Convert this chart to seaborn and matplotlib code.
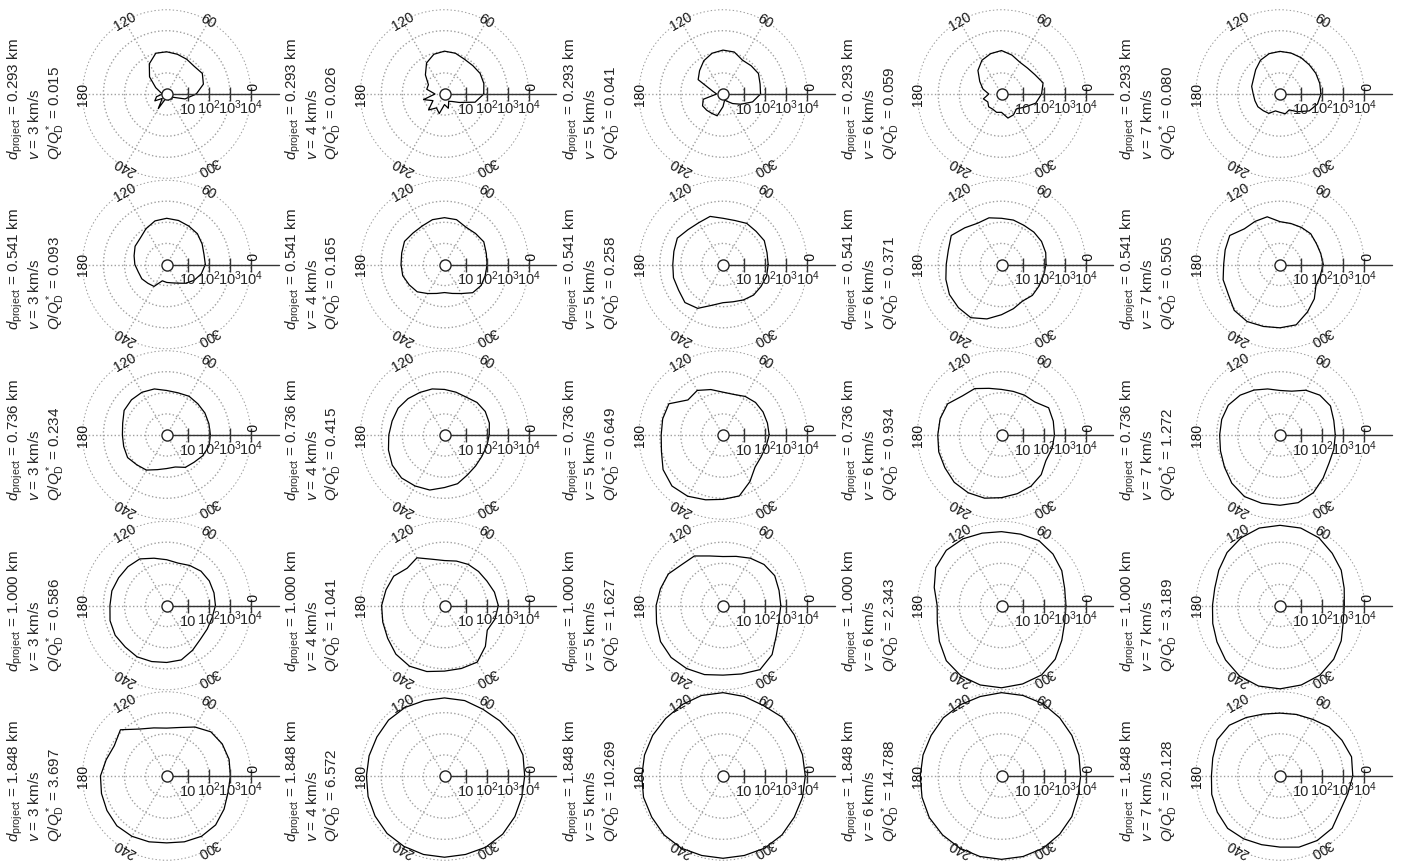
import numpy as np
import matplotlib
matplotlib.use('Agg')
import matplotlib.pyplot as plt
import matplotlib.transforms as mtransforms
import seaborn as sns


# parametres des simulations (lignes = diametre du projectile, colonnes = vitesse)
d_project = [0.293, 0.541, 0.736, 1.000, 1.848]
v_impact = [3, 4, 5, 6, 7]
q_row1 = [0.015, 0.026, 0.041, 0.059, 0.080]
q_row2 = [0.093, 0.165, 0.258, 0.371, 0.505]
q_row3 = [0.234, 0.415, 0.649, 0.934, 1.272]
q_row4 = [0.586, 1.041, 1.627, 2.343, 3.189]
q_row5 = [3.697, 6.572, 10.269, 14.788, 20.128]

# angles (deg) des points de chaque profil
angle_deg = [0, 15, 30, 45, 60, 75, 90, 105, 120, 135, 150, 165,
             180, 195, 210, 225, 240, 255, 270, 285, 300, 315, 330, 345]

# log10 du nombre de fragments par direction
n_d0293_v3 = [1.40, 1.80, 1.95, 1.85, 1.90, 1.95, 2.00, 2.00, 1.65, 1.15, 0.60, 0.30,
              0.20, 0.50, 0.65, 0.30, 0.80, 0.25, 0.20, 0.30, 0.20, 0.35, 0.30, 0.90]
n_d0293_v4 = [1.86, 1.93, 1.95, 1.90, 1.90, 2.00, 2.03, 1.95, 1.70, 1.28, 0.88, 0.87,
              0.45, 1.03, 0.63, 1.07, 0.76, 0.96, 0.50, 0.70, 0.40, 0.50, 0.80, 1.50]
n_d0293_v5 = [1.78, 1.82, 1.94, 1.89, 1.85, 2.06, 2.08, 2.00, 1.82, 1.57, 1.36, 0.50,
              0.30, 0.97, 1.12, 1.09, 1.06, 1.07, 0.60, 0.30, 0.40, 0.64, 0.97, 1.45]
n_d0293_v6 = [1.90, 2.04, 1.83, 1.74, 1.74, 1.91, 2.06, 1.98, 1.85, 1.58, 1.19, 0.91,
              0.60, 0.89, 0.75, 0.86, 0.83, 0.90, 0.87, 1.18, 1.14, 1.00, 1.25, 1.68]
n_d0293_v7 = [1.94, 1.95, 1.96, 1.96, 1.99, 2.01, 2.02, 1.98, 1.85, 1.63, 1.45, 1.39,
              1.27, 1.23, 1.21, 1.12, 1.06, 0.83, 0.87, 0.97, 0.87, 1.19, 1.60, 1.84]

n_d0541_v3 = [1.83, 1.83, 1.94, 2.06, 2.10, 2.16, 2.19, 2.14, 1.96, 1.77, 1.73, 1.60,
              1.51, 1.39, 1.36, 1.26, 1.20, 0.80, 0.85, 0.90, 1.02, 1.26, 1.50, 1.70]
n_d0541_v4 = [2.02, 2.05, 2.15, 2.08, 2.04, 2.20, 2.22, 2.20, 2.11, 2.11, 2.19, 2.10,
              2.06, 2.05, 1.93, 1.83, 1.59, 1.42, 1.33, 1.42, 1.59, 1.89, 2.00, 2.00]
n_d0541_v5 = [2.14, 2.16, 2.26, 2.22, 2.25, 2.16, 2.19, 2.36, 2.29, 2.34, 2.50, 2.41,
              2.38, 2.43, 2.43, 2.55, 2.40, 2.00, 1.81, 1.83, 1.94, 2.05, 2.08, 2.14]
n_d0541_v6 = [2.11, 2.17, 2.19, 2.17, 2.14, 2.18, 2.19, 2.29, 2.26, 2.46, 2.75, 2.61,
              2.62, 2.73, 2.85, 2.89, 2.91, 2.67, 2.38, 2.17, 2.00, 2.07, 2.05, 2.06]
n_d0541_v7 = [2.05, 2.00, 1.99, 2.06, 2.03, 2.01, 2.03, 2.34, 2.36, 2.39, 2.75, 2.69,
              2.67, 2.79, 2.83, 3.07, 3.12, 3.04, 3.00, 2.96, 2.60, 2.30, 1.97, 1.98]

n_d0736_v3 = [2.07, 2.07, 2.09, 2.09, 2.12, 2.07, 2.11, 2.26, 2.34, 2.36, 2.33, 2.16,
              2.10, 2.11, 2.14, 2.00, 1.92, 1.70, 1.59, 1.57, 1.77, 1.83, 1.97, 2.07]
n_d0736_v4 = [2.12, 2.20, 2.23, 2.18, 2.07, 2.10, 2.16, 2.26, 2.33, 2.44, 2.54, 2.57,
              2.64, 2.75, 2.86, 2.88, 2.79, 2.70, 2.49, 2.39, 2.18, 2.08, 2.04, 2.07]
n_d0736_v5 = [2.19, 2.18, 2.19, 2.18, 2.11, 1.99, 2.03, 2.23, 2.44, 2.35, 2.96, 2.96,
              2.93, 3.02, 3.28, 3.42, 3.35, 3.18, 3.05, 2.99, 2.55, 2.15, 2.08, 2.11]
n_d0736_v6 = [2.51, 2.54, 2.58, 2.22, 2.18, 2.14, 2.16, 2.29, 2.54, 2.62, 2.95, 3.01,
              3.02, 3.08, 3.10, 3.17, 3.16, 3.10, 2.97, 2.88, 2.80, 2.66, 2.43, 2.48]
n_d0736_v7 = [2.62, 2.64, 2.76, 2.67, 2.45, 2.15, 2.11, 2.26, 2.46, 2.67, 2.83, 2.86,
              2.86, 2.92, 3.04, 3.23, 3.37, 3.35, 3.33, 3.32, 3.16, 2.89, 2.68, 2.64]

n_d1000_v3 = [2.31, 2.32, 2.33, 2.30, 2.19, 2.08, 2.17, 2.32, 2.55, 2.60, 2.63, 2.69,
              2.69, 2.78, 2.82, 2.78, 2.81, 2.75, 2.70, 2.67, 2.45, 2.26, 2.22, 2.23]
n_d1000_v4 = [2.55, 2.45, 2.32, 2.28, 2.25, 2.18, 2.13, 2.27, 2.61, 2.50, 2.78, 2.87,
              2.98, 3.03, 3.11, 3.26, 3.32, 3.24, 3.11, 3.09, 3.10, 2.74, 2.34, 2.48]
n_d1000_v5 = [2.74, 2.75, 2.83, 2.75, 2.59, 2.41, 2.32, 2.43, 2.71, 2.75, 2.99, 3.07,
              3.17, 3.26, 3.42, 3.48, 3.45, 3.39, 3.30, 3.36, 3.51, 3.29, 2.91, 2.74]
n_d1000_v6 = [3.05, 3.10, 3.30, 3.45, 3.55, 3.50, 3.50, 3.55, 3.65, 3.70, 3.60, 3.30,
              3.05, 3.15, 3.40, 3.70, 3.85, 3.90, 3.90, 3.85, 3.80, 3.60, 3.30, 3.10]
n_d1000_v7 = [3.05, 3.15, 3.35, 3.50, 3.70, 3.80, 3.80, 3.80, 3.70, 3.55, 3.35, 3.20,
              3.20, 3.30, 3.45, 3.65, 3.85, 3.95, 3.95, 3.90, 3.80, 3.60, 3.35, 3.10]

n_d1848_v3 = [3.02, 3.06, 3.04, 2.96, 2.68, 2.38, 2.27, 2.36, 2.57, 3.10, 2.87, 2.97,
              3.14, 3.20, 3.27, 3.34, 3.30, 3.23, 3.17, 3.23, 3.30, 3.28, 3.14, 3.01]
n_d1848_v4 = [3.80, 3.85, 3.80, 3.70, 3.65, 3.70, 3.70, 3.70, 3.75, 3.75, 3.70, 3.70,
              3.70, 3.75, 3.80, 3.85, 3.85, 3.85, 3.85, 3.85, 3.90, 3.90, 3.85, 3.80]
n_d1848_v5 = [3.90, 3.90, 3.90, 3.95, 3.85, 3.90, 3.95, 3.95, 3.90, 3.85, 3.85, 3.85,
              3.85, 3.90, 3.90, 3.95, 3.95, 3.90, 3.90, 3.90, 3.95, 3.95, 3.90, 3.90]
n_d1848_v6 = [3.75, 3.80, 3.85, 3.90, 3.95, 3.95, 3.95, 3.90, 3.90, 3.90, 3.85, 3.85,
              3.85, 3.90, 3.95, 3.95, 3.95, 3.95, 3.95, 3.95, 3.95, 3.90, 3.85, 3.75]
n_d1848_v7 = [3.45, 3.51, 3.39, 3.29, 3.10, 3.02, 2.98, 3.04, 3.20, 3.40, 3.44, 3.30,
              3.25, 3.35, 3.43, 3.51, 3.44, 3.37, 3.37, 3.49, 3.53, 3.50, 3.29, 3.32]

q_rows = [q_row1, q_row2, q_row3, q_row4, q_row5]
profils = [
    [n_d0293_v3, n_d0293_v4, n_d0293_v5, n_d0293_v6, n_d0293_v7],
    [n_d0541_v3, n_d0541_v4, n_d0541_v5, n_d0541_v6, n_d0541_v7],
    [n_d0736_v3, n_d0736_v4, n_d0736_v5, n_d0736_v6, n_d0736_v7],
    [n_d1000_v3, n_d1000_v4, n_d1000_v5, n_d1000_v6, n_d1000_v7],
    [n_d1848_v3, n_d1848_v4, n_d1848_v5, n_d1848_v6, n_d1848_v7],
]

r_ticks = [1, 2, 3, 4]
r_tick_labels = ['10', '$10^2$', '$10^3$', '$10^4$']
grid_angles = [0, 60, 120, 180, 240, 300]

sns.set_style('white')
plt.rcParams['font.family'] = ['Liberation Sans', 'DejaVu Sans']
plt.rcParams['mathtext.fontset'] = 'custom'
plt.rcParams['mathtext.rm'] = 'Liberation Sans'
plt.rcParams['mathtext.it'] = 'Liberation Sans:italic'
plt.rcParams['mathtext.bf'] = 'Liberation Sans:bold'

W, H = 1403, 866
fig = plt.figure(figsize=(W / 100, H / 100), dpi=100)

# centres des panneaux en pixels (origine en haut a gauche)
col_x = [166.7, 444.5, 723.0, 1001.5, 1280.0]
row_y = [94.0, 264.5, 435.0, 605.5, 776.0]
dec = 21.1      # pixels par decade
rmax = 4.02
R = rmax * dec


def panneau(i, j):
    cx, cy = col_x[j], row_y[i]
    ax = fig.add_axes([(cx - R) / W, 1 - (cy + R) / H, 2 * R / W, 2 * R / H],
                      projection='polar')
    ax.set_facecolor('none')
    ax.spines['polar'].set_visible(False)
    ax.set_xticks(np.deg2rad(grid_angles))
    ax.set_xticklabels([])
    ax.set_yticks(r_ticks)
    ax.set_yticklabels([])
    ax.set_ylim(0, rmax)
    ax.grid(True, color='#a0a0a0', linestyle=':', linewidth=1.0)
    ax.tick_params(length=0)

    # profil ferme
    vals = profils[i][j]
    theta = np.deg2rad(angle_deg + [360])
    r = vals + [vals[0]]
    sns.lineplot(x=theta, y=r, sort=False, estimator=None, color='black',
                 linewidth=0.9, ax=ax)
    ax.set_xlabel('')
    ax.set_ylabel('')

    # axe radial avec graduations
    ax.plot([0, 0], [0, 5.3], color='#333333', lw=1.0, clip_on=False, zorder=3)
    ax.plot(np.zeros(len(r_ticks)), r_ticks, ls='none', marker='|', ms=10,
            mew=1.0, color='#333333', clip_on=False, zorder=3)
    ax.plot([0], [0], 'o', ms=8, mfc='white', mec='#222222', mew=1.0,
            clip_on=False, zorder=5)

    below = mtransforms.offset_copy(ax.transData, fig=fig, x=0, y=-20, units='dots')
    for rt, lab in zip(r_ticks, r_tick_labels):
        ax.text(0, rt, lab, transform=below, ha='center', va='baseline', fontsize=10.5)

    # etiquettes des angles sur le cercle exterieur
    for a in grid_angles:
        pos = a + 5 if a == 0 else a
        ax.text(np.deg2rad(pos), 3.95, str(a), rotation=a - 90, ha='center',
                va='center', rotation_mode='anchor', fontsize=10, color='#111111')

    # texte des parametres a gauche
    txt = ('$d_{\\rm project}$ = %.3f km\n$v$ = %d km/s\n$Q/Q_{\\rm D}^*$ = %.3f'
           % (d_project[i], v_impact[j], q_rows[i][j]))
    fig.text((cx - 100) / W, 1 - (cy + 66) / H, txt, rotation=90, ha='right',
             va='bottom', multialignment='left', fontsize=11, linespacing=1.15)


for i in range(5):
    for j in range(5):
        panneau(i, j)

fig.savefig('out.png', dpi=100)
